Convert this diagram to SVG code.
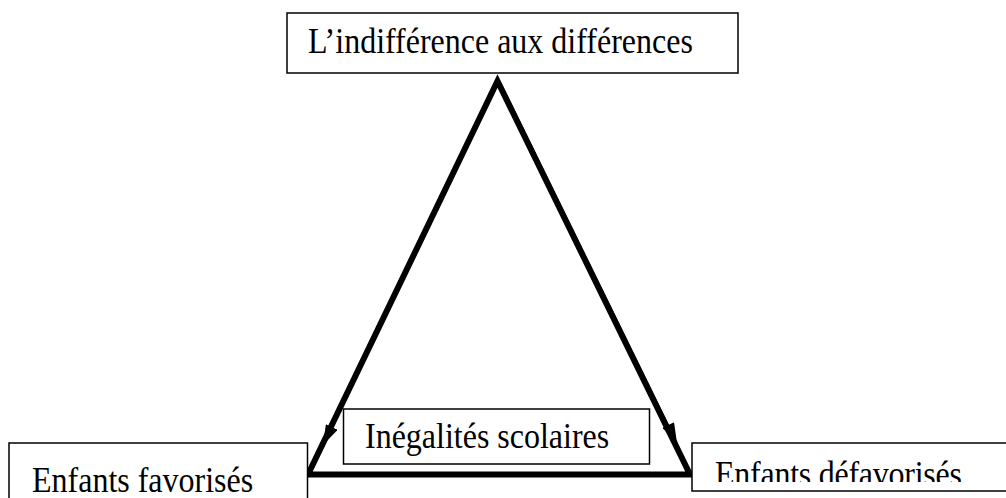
<svg xmlns="http://www.w3.org/2000/svg" width="1006" height="498" viewBox="0 0 1006 498">
<style>
.box{fill:#fff;stroke:#000;stroke-width:1.5}
.lbl{font-family:"Liberation Serif","Times New Roman",serif;font-size:32px;fill:#000}
.tri{fill:none;stroke:#000;stroke-width:6;stroke-linejoin:miter;stroke-miterlimit:20}
.arr{stroke:#000;stroke-width:1.5;fill:none}
</style>
<defs>
<marker id="ah" viewBox="0 0 10 10" refX="10" refY="5" markerUnits="userSpaceOnUse" markerWidth="20" markerHeight="13" preserveAspectRatio="none" orient="auto">
<path d="M0,0 L10,5 L0,10 Z" fill="#000"/>
</marker>
<clipPath id="clipD"><rect x="692" y="443" width="320" height="39"/></clipPath>
</defs>
<rect width="1006" height="498" fill="#fff"/>
<g id="connectors">
<polygon class="tri" points="497.5,81 308,474.5 690,474.5"/>
<line class="arr" x1="499" y1="82" x2="323" y2="445" marker-end="url(#ah)"/>
<line class="arr" x1="500" y1="82" x2="677" y2="443" marker-end="url(#ah)"/>
</g>
<g id="top">
<rect class="box" x="287" y="13" width="451" height="60"/>
<text class="lbl" transform="translate(308,53) scale(1,1.1)">L’indifférence aux différences</text>
</g>
<g id="favorises">
<rect class="box" x="9" y="443" width="298.5" height="70"/>
<text class="lbl" transform="translate(32,492) scale(1,1.1)">Enfants favorisés</text>
</g>
<g id="inegalites">
<rect class="box" x="343.5" y="409" width="306" height="55"/>
<text class="lbl" transform="translate(365,448) scale(1,1.1)">Inégalités scolaires</text>
</g>
<g id="defavorises">
<rect class="box" x="692" y="443" width="320" height="48"/>
<g clip-path="url(#clipD)">
<text class="lbl" transform="translate(715,486) scale(1,1.1)" textLength="247">Enfants défavorisés</text>
</g>
</g>
</svg>
